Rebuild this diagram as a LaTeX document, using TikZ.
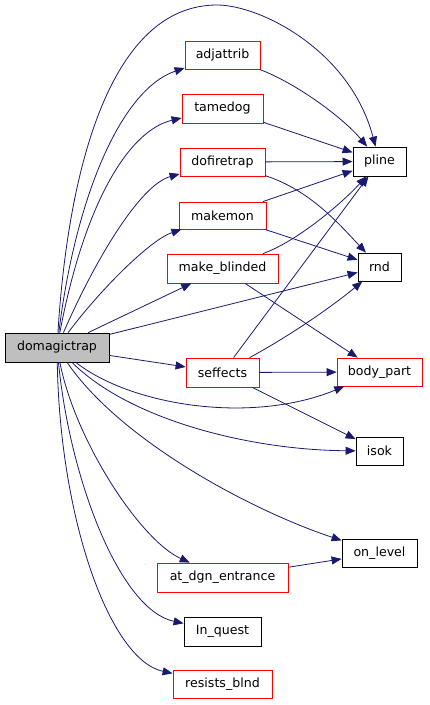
\documentclass[tikz,border=0pt]{standalone}
\usepackage{fontspec}
\setmainfont{DejaVu Sans}
\usetikzlibrary{arrows.meta}
\definecolor{edgeblue}{HTML}{191970}
\definecolor{boxred}{HTML}{FF0000}
\definecolor{rootgray}{HTML}{BFBFBF}

\begin{document}
\begin{tikzpicture}[
  x=1pt, y=-1pt,
  every node/.style={draw, minimum height=28pt, inner sep=0pt, line width=0.8pt, font=\fontsize{12.6}{15}\selectfont},
  fnred/.style={draw=boxred},
  fnblk/.style={draw=black},
  root/.style={draw=black, fill=rootgray},
  arr/.style={-{Triangle[length=10pt, width=8pt]}, draw=edgeblue, line width=0.8pt},
]
  \useasboundingbox (0,0) rectangle (429,705);

  % Caller
  \node[root, minimum width=104pt, minimum height=29pt] (dm) at (57,347.5) {domagictrap};

  % Middle column
  \node[fnred, minimum width=75pt] (adj) at (222.5,55) {adjattrib};
  \node[fnred, minimum width=81pt, minimum height=29pt] (tame) at (222.5,108.5) {tamedog};
  \node[fnred, minimum width=85pt] (fire) at (222.5,162) {dofiretrap};
  \node[fnred, minimum width=87pt, minimum height=27pt] (mkmon) at (222.5,215.5) {makemon};
  \node[fnred, minimum width=111pt, minimum height=29pt] (blind) at (222.5,268.5) {make\_blinded};
  \node[fnred, minimum width=73pt, minimum height=29pt] (seff) at (222.5,372.5) {seffects};
  \node[fnred, minimum width=131pt, minimum height=29pt] (dgn) at (222.5,577.5) {at\_dgn\_entrance};
  \node[fnblk, minimum width=77pt, minimum height=29pt] (quest) at (222.5,631.5) {In\_quest};
  \node[fnred, minimum width=99pt] (resist) at (222.5,684) {resists\_blnd};

  % Right column
  \node[fnblk, minimum width=53pt, minimum height=29pt] (pline) at (379.5,161.5) {pline};
  \node[fnblk, minimum width=43pt] (rnd) at (379.5,267) {rnd};
  \node[fnred, minimum width=85pt] (body) at (379.5,372) {body\_part};
  \node[fnblk, minimum width=47pt] (isok) at (379.5,451) {isok};
  \node[fnblk, minimum width=75pt] (onlvl) at (379.5,553) {on\_level};

  % Calls from domagictrap
  \draw[arr] (dm) .. controls (68,170) and (110,5) .. (217,5)
             .. controls (260,5) and (350,50) .. (pline);
  \draw[arr] (dm) .. controls (75,200) and (120,90) .. (adj);
  \draw[arr] (dm) .. controls (85,200) and (130,130) .. (tame);
  \draw[arr] (dm) .. controls (95,260) and (140,185) .. (fire);
  \draw[arr] (dm) .. controls (100,290) and (150,240) .. (mkmon);
  \draw[arr] (dm) -- (blind);
  \draw[arr] (dm) -- (rnd);
  \draw[arr] (dm) -- (seff);
  \draw[arr] (dm) .. controls (130,405) and (250,425) .. (body);
  \draw[arr] (dm) .. controls (130,420) and (250,450) .. (isok);
  \draw[arr] (dm) .. controls (120,440) and (250,510) .. (onlvl);
  \draw[arr] (dm) .. controls (75,440) and (140,540) .. (dgn);
  \draw[arr] (dm) .. controls (70,480) and (120,610) .. (quest);
  \draw[arr] (dm) .. controls (60,520) and (110,660) .. (resist);

  % Calls further down
  \draw[arr] (adj) .. controls (300,85) and (345,120) .. (pline);
  \draw[arr] (tame) -- (pline);
  \draw[arr] (fire) -- (pline);
  \draw[arr] (fire) .. controls (310,190) and (340,225) .. (rnd);
  \draw[arr] (mkmon) -- (pline);
  \draw[arr] (mkmon) -- (rnd);
  \draw[arr] (blind) .. controls (300,240) and (345,200) .. (pline);
  \draw[arr] (blind) -- (body);
  \draw[arr] (seff) -- (pline);
  \draw[arr] (seff) .. controls (300,330) and (340,300) .. (rnd);
  \draw[arr] (seff) -- (body);
  \draw[arr] (seff) -- (isok);
  \draw[arr] (dgn) -- (onlvl);
\end{tikzpicture}
\end{document}
